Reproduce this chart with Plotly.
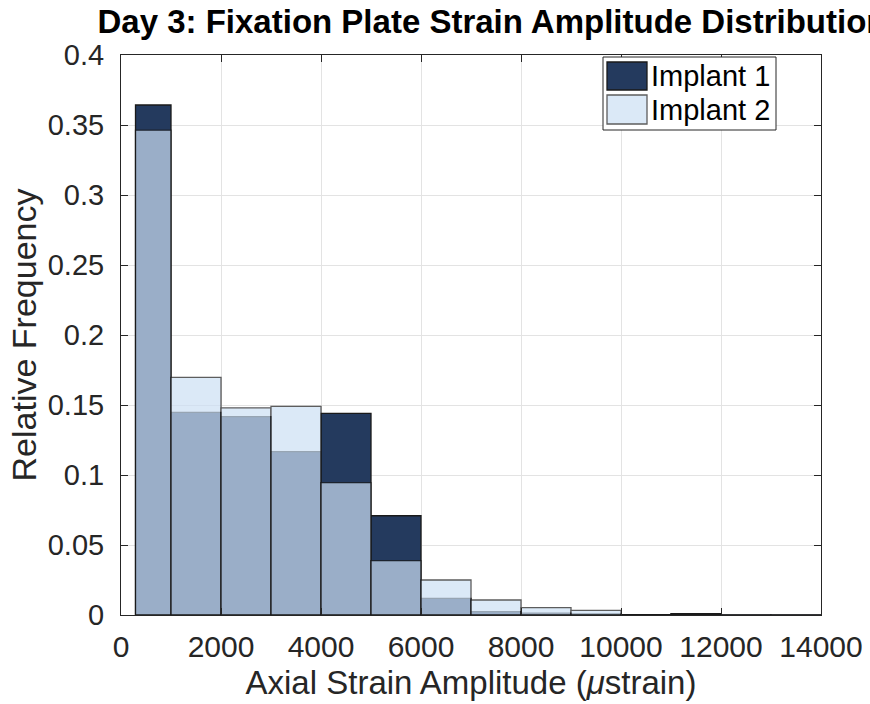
import plotly.graph_objects as go

bin_edges = [290, 1000, 2000, 3000, 4000, 5000, 6000, 7000, 8000, 9000, 10000, 11000, 12000, 13000, 14000]
implant1 = [0.3643, 0.1448, 0.1417, 0.1167, 0.1440, 0.0709, 0.0119, 0.0024, 0.0013, 0.0007, 0.0002, 0.0010, 0.0001, 0.0001]
implant2 = [0.3464, 0.1698, 0.1480, 0.1490, 0.0945, 0.0388, 0.0250, 0.0107, 0.0052, 0.0033, 0.0002, 0.0008, 0.0001, 0.0001]
series_names = ["Implant 1", "Implant 2"]
series_colors = ["#243A5E", "#CDE0F5"]
series_opacity = [1.0, 0.7]
x_ticks = [0, 2000, 4000, 6000, 8000, 10000, 12000, 14000]
y_ticks = [0, 0.05, 0.1, 0.15, 0.2, 0.25, 0.3, 0.35, 0.4]
y_tick_labels = ["0", "0.05", "0.1", "0.15", "0.2", "0.25", "0.3", "0.35", "0.4"]

centers = [(a + b) / 2 for a, b in zip(bin_edges[:-1], bin_edges[1:])]
widths = [b - a for a, b in zip(bin_edges[:-1], bin_edges[1:])]

FONT = "Liberation Sans, Arial, sans-serif"
AXC = "#262626"
EDGE = "#1a1a1a"

fig = go.Figure()
for vals, name, col, op in zip([implant1, implant2], series_names, series_colors, series_opacity):
    fig.add_trace(go.Bar(
        x=centers, y=vals, width=widths, name=name, opacity=op,
        marker=dict(color=col, line=dict(color=EDGE, width=1.3)),
        showlegend=False,
    ))

# plot-area pixel geometry (for a MATLAB-style legend with big swatches)
L, R, T, B = 121, 821, 55, 615
def px(x):
    return (x - L) / (R - L)
def py(y):
    return (B - y) / (B - T)

shapes = [dict(type="rect", xref="paper", yref="paper",
               x0=px(603), x1=px(776), y0=py(130), y1=py(57),
               fillcolor="white", line=dict(color=AXC, width=1), layer="above")]
annotations = []
rows = [(62, 90), (95, 124)]
for (y0, y1), name, col, op in zip(rows, series_names, series_colors, series_opacity):
    shapes.append(dict(type="rect", xref="paper", yref="paper",
                       x0=px(607), x1=px(647), y0=py(y1), y1=py(y0),
                       fillcolor=col, opacity=op, line=dict(color=EDGE, width=1.3),
                       layer="above"))
    annotations.append(dict(text=name, xref="paper", yref="paper",
                            x=px(649), y=py((y0 + y1) / 2), xanchor="left", yanchor="middle",
                            showarrow=False, font=dict(family=FONT, size=29, color="#000000")))

fig.update_layout(
    width=870, height=704,
    barmode="overlay",
    paper_bgcolor="white", plot_bgcolor="white",
    margin=dict(l=L, r=870 - R, t=T, b=704 - B, autoexpand=False),
    font=dict(family=FONT, size=29, color=AXC),
    title=dict(
        text="<b>Day 3: Fixation Plate Strain Amplitude Distribution</b>",
        font=dict(family=FONT, size=33, color="#000000"),
        x=px(492), xref="paper", xanchor="center",
        y=1 - 21 / 704, yref="container", yanchor="middle",
    ),
    shapes=shapes, annotations=annotations,
    showlegend=False,
)

fig.update_xaxes(
    range=[0, 14000], tickvals=x_ticks, ticktext=[str(v) for v in x_ticks],
    showgrid=True, gridcolor="#e3e3e3", gridwidth=1,
    showline=True, linecolor=AXC, linewidth=1, mirror="allticks",
    ticks="inside", ticklen=7, tickcolor=AXC,
    zeroline=False, ticklabelstandoff=5,
    tickfont=dict(family=FONT, size=30, color=AXC),
    title=dict(text="Axial Strain Amplitude (<i>μ</i>strain)",
               font=dict(family=FONT, size=33, color=AXC), standoff=8),
)
fig.update_yaxes(
    range=[0, 0.4], tickvals=y_ticks, ticktext=y_tick_labels,
    showgrid=True, gridcolor="#e3e3e3", gridwidth=1,
    showline=True, linecolor=AXC, linewidth=1, mirror="allticks",
    ticks="inside", ticklen=7, tickcolor=AXC,
    zeroline=False, ticklabelstandoff=10,
    tickfont=dict(family=FONT, size=29, color=AXC),
    title=dict(text="Relative Frequency",
               font=dict(family=FONT, size=34, color=AXC), standoff=0),
)

fig.write_html("out.html")
